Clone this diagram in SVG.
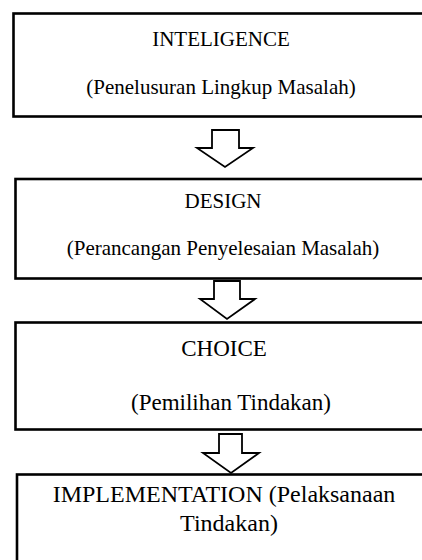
<svg xmlns="http://www.w3.org/2000/svg" width="422" height="560" viewBox="0 0 422 560">
<style>
.box{fill:#fff;stroke:#000;stroke-width:2.6}
.arr{fill:#fff;stroke:#000;stroke-width:1.8;stroke-linejoin:miter}
.t1{font-family:"Liberation Serif","Times New Roman",serif;font-size:21px;fill:#000;text-anchor:middle}
.t2{font-family:"Liberation Serif","Times New Roman",serif;font-size:23px;fill:#000;text-anchor:middle}
.t3{font-family:"Liberation Serif","Times New Roman",serif;font-size:24px;fill:#000;text-anchor:middle}
</style>
<rect width="422" height="560" fill="#fff"/>
<g id="intelligence">
<rect class="box" x="13.5" y="13.5" width="430" height="103"/>
<text class="t1" x="221" y="46">INTELIGENCE</text>
<text class="t1" x="221" y="94">(Penelusuran Lingkup Masalah)</text>
</g>
<g id="design">
<rect class="box" x="15.5" y="179" width="430" height="99.5"/>
<text class="t1" x="223" y="208">DESIGN</text>
<text class="t1" x="223" y="255">(Perancangan Penyelesaian Masalah)</text>
</g>
<g id="choice">
<rect class="box" x="15.5" y="322.5" width="430" height="107"/>
<text class="t2" x="224" y="356">CHOICE</text>
<text class="t2" x="231" y="410">(Pemilihan Tindakan)</text>
</g>
<g id="implementation">
<rect class="box" x="17" y="474.5" width="430" height="100"/>
<text class="t3" x="224" y="502">IMPLEMENTATION (Pelaksanaan</text>
<text class="t3" x="229" y="531">Tindakan)</text>
</g>
<g id="connectors">
<polygon class="arr" points="212,130 239,130 239,148 253,148 225,167 197,148 212,148"/>
<polygon class="arr" points="214,281 240,281 240,299 255,299 227,319 200,299 214,299"/>
<polygon class="arr" points="219,434 242,434 242,453 259,453 231,473 203,453 219,453"/>
</g>
</svg>
